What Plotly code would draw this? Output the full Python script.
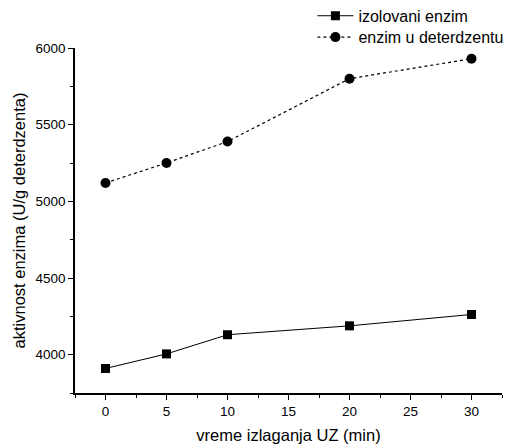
import plotly.graph_objects as go

time_min = [0, 5, 10, 20, 30]
izolovani = [3910, 4005, 4130, 4188, 4262]
deterdzent = [5120, 5250, 5390, 5800, 5930]

fig = go.Figure()
fig.add_trace(go.Scatter(
    x=time_min, y=izolovani, mode="lines+markers", name="izolovani enzim",
    line=dict(color="black", width=1),
    marker=dict(symbol="square", size=9, color="black"),
    legend="legend",
))
fig.add_trace(go.Scatter(
    x=time_min, y=deterdzent, mode="lines+markers", name="enzim u deterdzentu",
    line=dict(color="black", width=1.2, dash="dot"),
    marker=dict(symbol="circle", size=10, color="black"),
    legend="legend2",
))

leg_common = dict(xref="paper", yref="container", xanchor="left", yanchor="middle",
                  font=dict(size=16), bgcolor="rgba(0,0,0,0)", itemwidth=36)

fig.update_layout(
    width=506, height=436,
    margin=dict(l=67, r=12, t=40, b=51, autoexpand=False),
    paper_bgcolor="white", plot_bgcolor="white",
    font=dict(family="Liberation Sans, Arial, sans-serif", color="black", size=13.5),
    legend=dict(x=0.556, y=0.982, **leg_common),
    legend2=dict(x=0.556, y=0.933, **leg_common),
    showlegend=True,
)
fig.update_xaxes(
    range=[-2.5, 32.5], tickmode="array", tickvals=[0, 5, 10, 15, 20, 25, 30],
    ticks="outside", ticklen=5, tickwidth=1, tickcolor="black",
    minor=dict(tickmode="linear", tick0=-2.5, dtick=2.5, ticks="outside", ticklen=3, tickcolor="black"),
    showline=True, linecolor="black", linewidth=1.5, showgrid=False, zeroline=False,
    title=dict(text="vreme izlaganja UZ (min)", font=dict(size=16.5), standoff=11),
    tickfont=dict(size=13.5),
)
fig.update_yaxes(
    range=[3750, 6000], tickmode="array", tickvals=[4000, 4500, 5000, 5500, 6000],
    ticks="outside", ticklen=5, tickwidth=1, tickcolor="black",
    minor=dict(tickmode="linear", tick0=3750, dtick=250, ticks="outside", ticklen=3, tickcolor="black"),
    showline=True, linecolor="black", linewidth=1.5, showgrid=False, zeroline=False,
    title=dict(text="aktivnost enzima (U/g deterdzenta)", font=dict(size=16.5), standoff=6),
    tickfont=dict(size=13.5),
)

fig.write_html("out.html")
